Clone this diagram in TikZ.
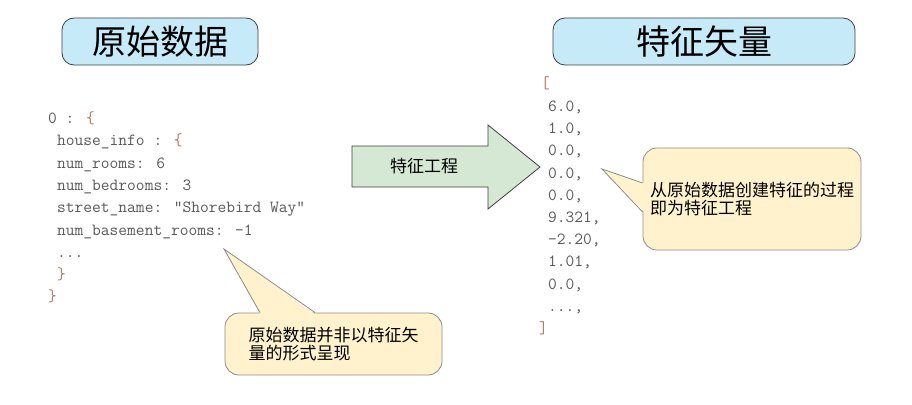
\documentclass[tikz,border=0pt]{standalone}
\usepackage{fontspec}
\setmainfont{Noto Sans CJK SC}
\usetikzlibrary{positioning}
\definecolor{titleblue}{HTML}{C6EAF8}
\definecolor{notecream}{HTML}{FFF2CC}
\definecolor{arrowgreen}{HTML}{D5E8D4}
\definecolor{codegray}{HTML}{5A5A5A}
\definecolor{bracered}{HTML}{B8735F}
\definecolor{edgedark}{HTML}{404040}
\definecolor{edgegray}{HTML}{8C8C8C}
\tikzset{
	titlebox/.style={draw=edgedark, fill=titleblue, rounded corners=12pt, thick,
		font=\fontsize{34}{36}\selectfont, inner sep=0pt}
}
\tikzset{
	notebox/.style={draw=edgegray, fill=notecream, rounded corners=14pt, thick,
		font=\fontsize{17}{18}\selectfont, align=left, inner sep=0pt}
}
\tikzset{
	codetext/.style={font=\ttfamily\fontsize{17}{18}\selectfont, text=codegray,
		anchor=west, inner sep=0pt, text height=10pt, text depth=3pt}
}
\newcommand{\brc}[1]{\textcolor{bracered}{#1}}

\begin{document}
\begin{tikzpicture}[x=1pt, y=-1pt]
  \useasboundingbox[fill=white] (0,0) rectangle (912,404);
  % titles
  \node[titlebox, minimum width=196, minimum height=47] (rawtitle) at (160,41.5) {原始数据};
  \node[titlebox, minimum width=302, minimum height=47] (vectitle) at (704,41.5) {特征矢量};
  % raw data
  \node[codetext] (raw0) at (48,120) {0 : \brc{\{}};
  \node[codetext] (raw1) at (57,142.3) {house\_info : \brc{\{}};
  \node[codetext] (raw2) at (57,164.6) {num\_rooms: 6};
  \node[codetext] (raw3) at (57,186.9) {num\_bedrooms: 3};
  \node[codetext] (raw4) at (57,209.2) {street\_name: ”Shorebird Way”};
  \node[codetext] (raw5) at (57,231.5) {num\_basement\_rooms: -1};
  \node[codetext] (raw6) at (57,253.8) {...};
  \node[codetext] (raw7) at (57,276.1) {\brc{\}}};
  \node[codetext] (raw8) at (48,298.4) {\brc{\}}};
  % feature vector
  \node[codetext] (vecopen) at (541,85) {\brc{[}};
  \foreach \y/\v [count=\i] in {108/6.0, 130.2/1.0, 152.4/0.0, 174.6/0.0, 196.8/0.0,
      219/9.321, 241.2/-2.20, 263.4/1.01, 285.6/0.0}
    \node[codetext] (val\i) at (548,\y) {\v,};
  \node[codetext] (valmore) at (548,307.8) {...,};
  \node[codetext] (vecclose) at (539,330) {\brc{]}};
  % block arrow
  \draw[thick, draw=edgedark, fill=arrowgreen] (352,146) -- (488,146) -- (488,125)
    -- (540,167) -- (488,209) -- (488,187) -- (352,187) -- cycle;
  \node[font=\fontsize{17}{18}\selectfont] (felabel) at (424,166) {特征工程};
  % notes
  \node[notebox, minimum width=218, minimum height=102] (notefe) at (752,199)
    {从原始数据创建特征的过程\\即为特征工程};
  \coordinate (tipfe) at (602,169);
  \fill[notecream] (tipfe) -- ([yshift=16pt, xshift=2pt]notefe.west)
    -- ([yshift=-13pt, xshift=2pt]notefe.west) -- cycle;
  \draw[thick, edgegray] ([yshift=16pt]notefe.west) -- (tipfe) -- ([yshift=-13pt]notefe.west);
  \node[notebox, minimum width=217, minimum height=62] (noteraw) at (333.5,344)
    {原始数据并非以特征矢\\量的形式呈现};
  \coordinate (tipraw) at (224,249);
  \fill[notecream] (tipraw) -- ([xshift=-73.5pt, yshift=-2pt]noteraw.north)
    -- ([xshift=-18.5pt, yshift=-2pt]noteraw.north) -- cycle;
  \draw[thick, edgegray] ([xshift=-73.5pt]noteraw.north) -- (tipraw) -- ([xshift=-18.5pt]noteraw.north);
\end{tikzpicture}
\end{document}
